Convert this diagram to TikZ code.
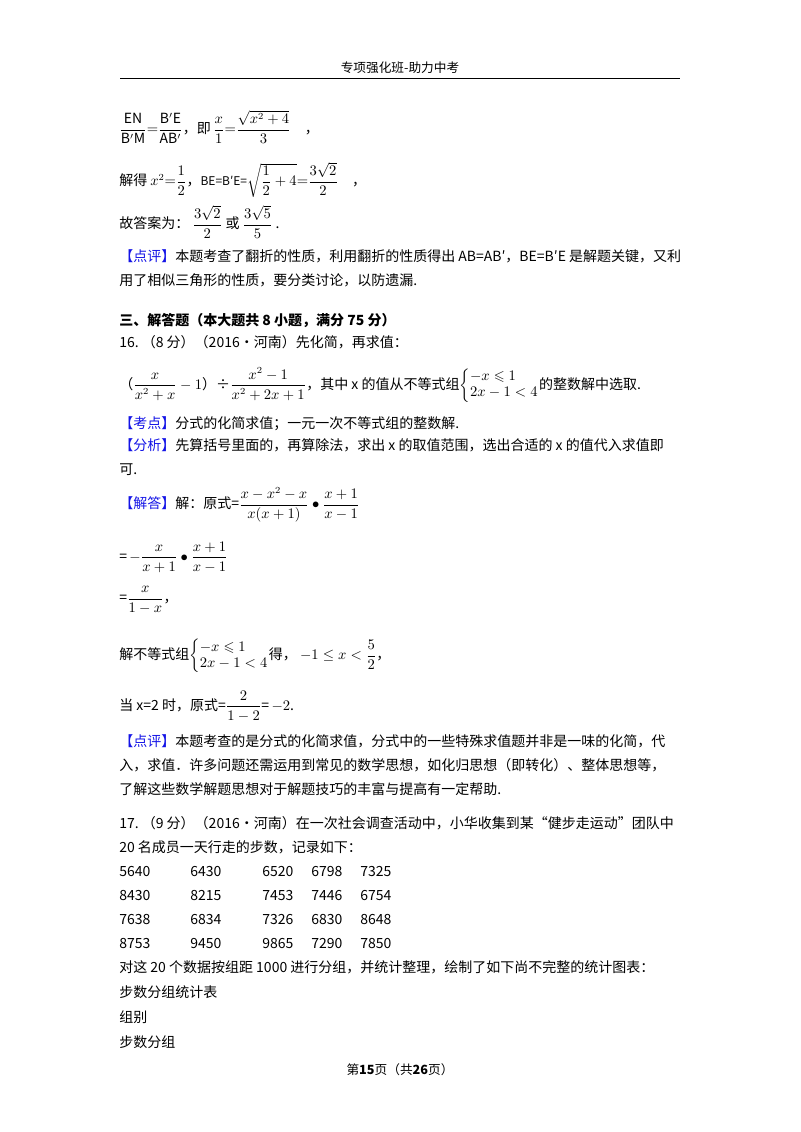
\documentclass[tikz,border=0pt]{standalone}
\usepackage{amsmath,amssymb}
\usepackage{fontspec}
\setmainfont{Noto Sans CJK SC}
\definecolor{kb}{RGB}{20,20,230}
\newcommand{\kh}[1]{\textcolor{kb}{【#1】}}
\newcommand{\ineqsys}{$\left\{\begin{array}{@{}l@{}}-x\leqslant 1\\ 2x-1<4\end{array}\right.$}
\begin{document}
\begin{tikzpicture}[x=0.75pt,y=-0.75pt,
  t/.style={anchor=base west,inner sep=0pt,font=\fontsize{10.5}{12}\selectfont},
  m/.style={anchor=west,inner sep=0pt,font=\fontsize{10.5}{12}\selectfont}]
\useasboundingbox (0,0) rectangle (800,1132);
\node[anchor=base,inner sep=0pt,font=\fontsize{9.5}{11}\selectfont] (hd) at (400,72) {专项强化班-助力中考};
\draw[line width=0.6pt] (120,78) -- (680,78);
\node[m] (r1) at (119,127) {$\dfrac{\mathrm{EN}}{\mathrm{B'M}}{=}\dfrac{\mathrm{B'E}}{\mathrm{AB'}}$，即\,$\dfrac{x}{1}{=}\dfrac{\sqrt{x^2+4}}{3}$\quad，};
\node[m] (r2) at (119,180) {解得 $x^2{=}\dfrac12$，{\small BE=B′E=}$\sqrt{\dfrac12+4}{=}\dfrac{3\sqrt2}{2}$\quad，};
\node[m] (r3) at (119,222) {故答案为：\ $\dfrac{3\sqrt2}{2}$ 或 $\dfrac{3\sqrt5}{5}$\ .};
\node[t] (p1) at (119,261) {\kh{点评}本题考查了翻折的性质，利用翻折的性质得出 AB=AB′，BE=B′E 是解题关键，又利};
\node[t] (p2) at (119,285) {用了相似三角形的性质，要分类讨论，以防遗漏.};
\node[t] (s3) at (119,325) {\bfseries 三、解答题（本大题共 8 小题，满分 75 分）};
\node[t] (q16) at (119,347) {16.\ （8 分）（2016•河南）先化简，再求值：};
\node[m] (f16) at (119,385) {（$\dfrac{x}{x^2+x}-1$）÷$\dfrac{x^2-1}{x^2+2x+1}$，其中 x 的值从不等式组\ineqsys 的整数解中选取.};
\node[t] (kd) at (119,428) {\kh{考点}分式的化简求值；一元一次不等式组的整数解.};
\node[t] (fx1) at (119,450) {\kh{分析}先算括号里面的，再算除法，求出 x 的取值范围，选出合适的 x 的值代入求值即};
\node[t] (fx2) at (119,474) {可.};
\node[m] (jd) at (119,505) {\kh{解答}解：原式=$\dfrac{x-x^2-x}{x(x+1)}\bullet\dfrac{x+1}{x-1}$};
\node[m] (e2) at (119,557) {=\,$-\dfrac{x}{x+1}\bullet\dfrac{x+1}{x-1}$};
\node[m] (e3) at (119,600) {=$\dfrac{x}{1-x}$，};
\node[m] (e4) at (119,656) {解不等式组\ineqsys 得，\ $-1\le x<\dfrac52$，};
\node[m] (e5) at (119,706) {当 x=2 时，原式=$\dfrac{2}{1-2}$=\,$-2$.};
\node[t] (d1) at (119,746) {\kh{点评}本题考查的是分式的化简求值，分式中的一些特殊求值题并非是一味的化简，代};
\node[t] (d2) at (119,770) {入，求值．许多问题还需运用到常见的数学思想，如化归思想（即转化）、整体思想等，};
\node[t] (d3) at (119,794) {了解这些数学解题思想对于解题技巧的丰富与提高有一定帮助.};
\node[t] (q17) at (119,828) {17.\ （9 分）（2016•河南）在一次社会调查活动中，小华收集到某“健步走运动”团队中};
\node[t] (q17b) at (119,852) {20 名成员一天行走的步数，记录如下：};
\foreach \a/\b/\c/\d/\e [count=\i] in {5640/6430/6520/6798/7325,8430/8215/7453/7446/6754,7638/6834/7326/6830/8648,8753/9450/9865/7290/7850}{
  \node[t] (da\i) at (119,852+24*\i) {\a};
  \node[t] (db\i) at (190,852+24*\i) {\b};
  \node[t] (dc\i) at (262,852+24*\i) {\c};
  \node[t] (dd\i) at (311,852+24*\i) {\d};
  \node[t] (de\i) at (360,852+24*\i) {\e};
}
\node[t] (l1) at (119,972) {对这 20 个数据按组距 1000 进行分组，并统计整理，绘制了如下尚不完整的统计图表：};
\node[t] (l2) at (119,997) {步数分组统计表};
\node[t] (l3) at (119,1022) {组别};
\node[t] (l4) at (119,1047) {步数分组};
\node[anchor=base,inner sep=0pt,font=\fontsize{9.5}{11}\selectfont] (ft) at (400,1074) {第\textbf{15}页（共\textbf{26}页）};
\end{tikzpicture}
\end{document}
